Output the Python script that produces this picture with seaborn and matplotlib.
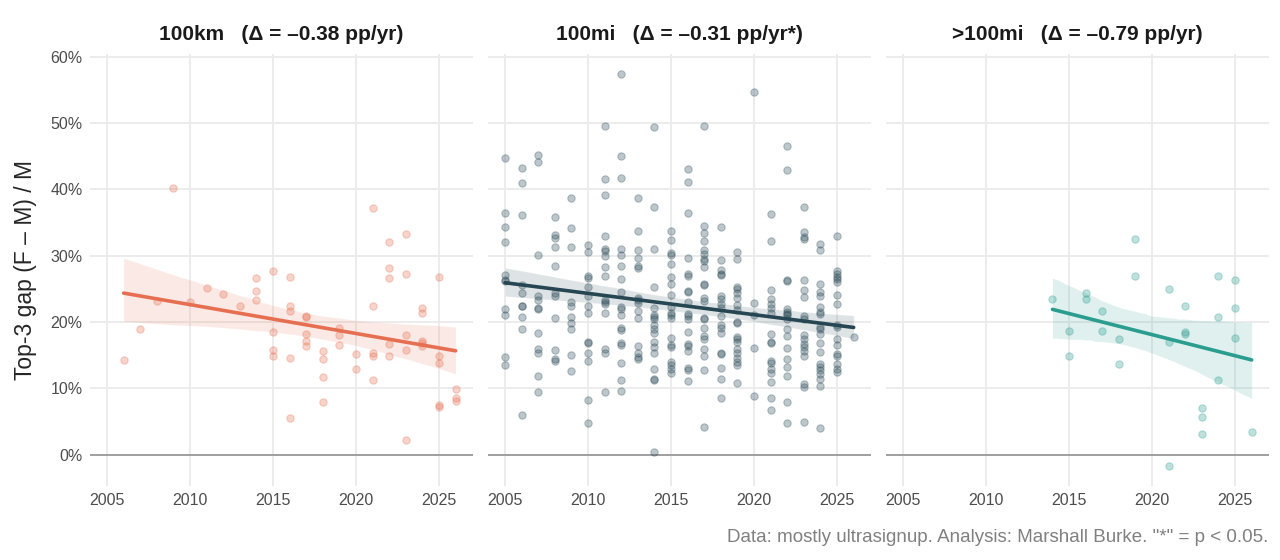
import numpy as np
import pandas as pd
import matplotlib
matplotlib.use("Agg")
import matplotlib.pyplot as plt
import seaborn as sns
from matplotlib.ticker import PercentFormatter

# ---- data: top-3 gap (F - M) / M in percent, one inner list per race year ----
km_years = list(range(2006, 2027))
km_gaps = [
    [14.35], [18.95], [23.2], [40.25], [23.1], [25.2], [24.2], [22.35],
    [26.6, 24.75, 23.35],
    [27.7, 18.45, 15.85, 14.85],
    [26.85, 22.45, 21.6, 14.6, 5.6],
    [20.85, 20.7, 18.25, 17.2, 16.35],
    [15.7, 14.45, 11.75, 8.0],
    [19.1, 18.0, 16.6],
    [15.25, 12.95],
    [37.2, 22.45, 15.35, 14.85, 11.25],
    [32.05, 28.1, 26.6, 16.7, 14.95],
    [33.2, 27.2, 18.0, 15.85, 2.25],
    [22.1, 21.35, 17.1, 16.85, 16.45],
    [26.85, 14.85, 13.85, 7.45, 7.25],
    [9.95, 8.6, 8.1],
]

mi_years = list(range(2005, 2027))
mi_gaps = [
    [44.8, 36.4, 34.3, 32.05, 27.15, 26.4, 26.15, 22.0, 21.05, 14.8, 13.5],
    [43.15, 41.0, 36.2, 25.65, 24.4, 22.5, 22.4, 20.8, 18.9, 6.0],
    [45.15, 44.1, 30.05, 23.9, 23.3, 22.15, 22.0, 18.35, 16.0, 15.3, 11.9, 9.4],
    [35.9, 33.15, 32.65, 31.25, 28.5, 24.4, 23.9, 20.6, 15.8, 14.4, 14.1],
    [38.75, 34.25, 31.25, 23.05, 22.4, 20.8, 19.9, 19.0, 15.05, 12.6],
    [31.55, 30.55, 27.0, 26.7, 25.3, 24.0, 22.5, 21.4, 17.0, 16.8, 15.3, 14.15, 8.25, 4.8],
    [49.6, 41.6, 39.1, 33.0, 31.0, 30.65, 29.9, 28.3, 27.0, 23.3, 23.05, 22.8, 21.3,
     16.0, 15.4, 9.4],
    [57.45, 45.0, 41.7, 31.0, 30.15, 28.5, 26.5, 24.5, 22.3, 22.0, 21.1, 19.1, 18.8,
     16.8, 16.6, 13.8, 11.3, 9.65],
    [38.7, 33.8, 30.8, 29.65, 28.4, 28.15, 23.65, 23.3, 22.9, 21.65, 20.6, 16.4, 15.4,
     14.8, 14.5],
    [49.35, 37.4, 31.05, 25.35, 22.15, 21.05, 20.75, 20.5, 19.6, 19.0, 18.4, 17.0, 16.3,
     15.4, 12.9, 11.4, 11.2, 0.4],
    [33.75, 32.4, 30.4, 30.15, 28.75, 26.75, 25.75, 24.05, 22.3, 21.4, 21.05, 20.6,
     17.6, 16.5, 16.25, 14.0, 13.5, 12.9, 12.3],
    [43.05, 41.05, 36.45, 29.6, 27.3, 26.9, 24.7, 24.5, 23.1, 21.25, 20.9, 20.5, 18.5,
     16.65, 16.4, 15.65, 13.15, 12.8, 11.15],
    [49.5, 34.5, 33.5, 32.25, 30.9, 30.25, 29.5, 29.15, 28.3, 25.75, 25.55, 23.65, 23.15,
     20.65, 20.4, 19.1, 17.9, 17.4, 16.0, 14.9, 12.8, 4.15],
    [34.4, 29.3, 27.9, 27.3, 27.1, 24.0, 23.5, 22.8, 22.15, 20.9, 19.5, 19.1, 18.4,
     15.4, 15.15, 13.1, 11.4, 8.55],
    [30.55, 29.55, 25.3, 25.0, 24.4, 23.65, 22.65, 21.75, 20.0, 19.9, 17.8, 17.4, 17.0,
     15.9, 15.3, 14.65, 14.05, 13.5, 10.75],
    [54.6, 22.9, 21.0, 16.1, 8.8],
    [36.35, 32.25, 24.9, 23.5, 22.8, 22.15, 21.4, 18.25, 17.0, 16.8, 14.15, 13.8, 12.9,
     12.4, 10.9, 8.5, 6.75],
    [46.5, 42.85, 26.4, 26.25, 22.0, 21.55, 21.25, 21.0, 20.4, 19.0, 17.9, 16.05, 14.5,
     13.3, 11.9, 8.0, 4.8],
    [37.4, 33.65, 32.8, 32.55, 26.4, 24.9, 23.75, 20.9, 20.5, 18.0, 17.4, 16.65, 16.25,
     15.65, 14.9, 10.65, 10.2, 4.9],
    [31.8, 30.9, 25.75, 24.5, 23.9, 22.3, 21.5, 21.25, 19.3, 19.0, 18.15, 16.9, 15.5,
     13.7, 13.25, 12.8, 12.15, 11.4, 10.4, 4.05],
    [33.0, 27.75, 27.3, 26.75, 26.5, 26.05, 24.15, 22.75, 19.6, 19.3, 17.4, 16.5, 15.25,
     14.9, 13.65, 13.0, 12.5],
    [17.8],
]

over_years = list(range(2014, 2027))
over_gaps = [
    [23.45], [18.65, 14.9], [24.35, 23.5], [21.6, 18.65], [17.4, 13.7],
    [32.5, 26.95], [], [25.0, 16.95, -1.75], [22.5, 18.45, 18.15],
    [7.0, 5.75, 3.1], [27.0, 20.75, 11.2], [26.4, 22.15, 17.6], [3.5],
]

panel_titles = ["100km   (\u0394 = \u20130.38 pp/yr)",
                "100mi   (\u0394 = \u20130.31 pp/yr*)",
                ">100mi   (\u0394 = \u20130.79 pp/yr)"]
panel_colors = ["#E76F51", "#264653", "#2A9D8F"]
x_ticks = [2005, 2010, 2015, 2020, 2025]
y_ticks = [0, 10, 20, 30, 40, 50, 60]


def to_frame(years, gaps):
    rows = [(yr, g) for yr, vals in zip(years, gaps) for g in vals]
    return pd.DataFrame(rows, columns=["year", "gap"])


frames = [to_frame(km_years, km_gaps), to_frame(mi_years, mi_gaps),
          to_frame(over_years, over_gaps)]

sns.set_style("white")
plt.rcParams["font.family"] = ["Liberation Sans", "DejaVu Sans"]

fig = plt.figure(figsize=(12.8, 5.6), dpi=100)

lefts = [89.6, 487.6, 885.6]
for i, (df, title, col) in enumerate(zip(frames, panel_titles, panel_colors)):
    ax = fig.add_axes([lefts[i] / 1280, 74 / 560, 383.5 / 1280, 432 / 560])
    ax.axhline(0, color="#999999", lw=1.3, zorder=1)
    sns.regplot(data=df, x="year", y="gap", ax=ax, ci=95, n_boot=1000, seed=1,
                color=col,
                scatter_kws=dict(s=28, alpha=0.3, linewidths=0.8, edgecolors=col, zorder=2),
                line_kws=dict(lw=2.6, zorder=3))
    ax.set_xlim(2003.95, 2027.05)
    ax.set_ylim(-4.7, 60.4)
    ax.set_xticks(x_ticks)
    ax.set_yticks(y_ticks)
    ax.yaxis.set_major_formatter(PercentFormatter(xmax=100, decimals=0))
    ax.grid(True, color="#EBEBEB", lw=1.3, zorder=0)
    ax.set_axisbelow(True)
    for s in ax.spines.values():
        s.set_visible(False)
    ax.tick_params(length=0, labelsize=11.5, labelcolor="#4D4D4D", pad=5)
    ax.set_xlabel("")
    ax.set_ylabel("")
    if i > 0:
        ax.set_yticklabels([])
    else:
        ax.set_ylabel("Top-3 gap (F \u2013 M) / M", fontsize=16.5, labelpad=10)
    ax.set_title(title, fontsize=15, fontweight="bold", color="#1A1A1A", pad=10)

fig.text(1268 / 1280, 23 / 560,
         'Data: mostly ultrasignup. Analysis: Marshall Burke. "*" = p < 0.05.',
         ha="right", va="center", fontsize=13.5, color="#808080")

fig.savefig("out.png", dpi=100)
